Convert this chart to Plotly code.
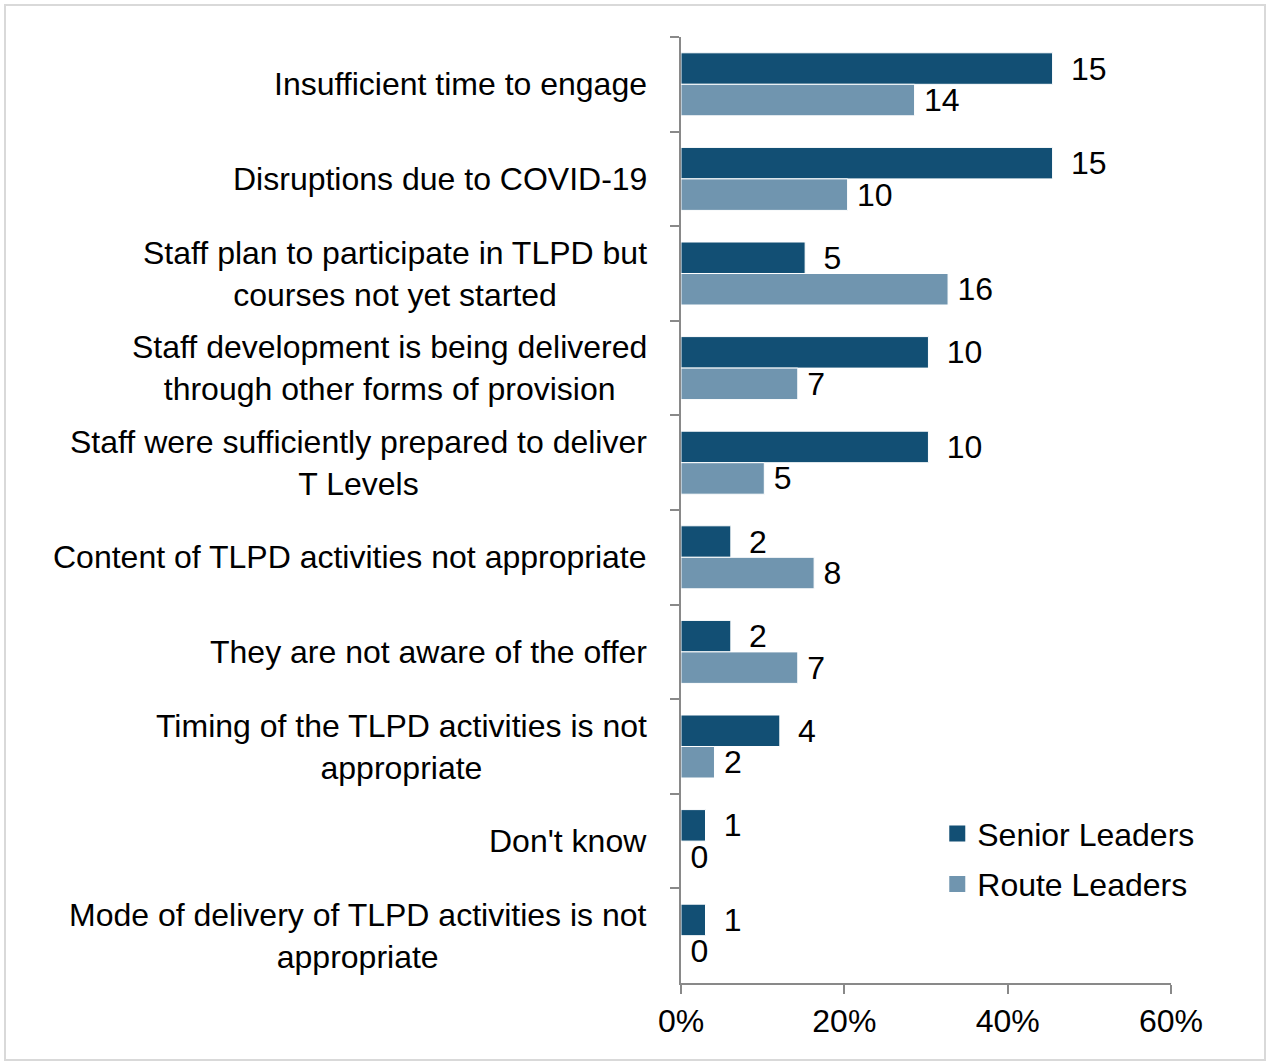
import plotly.graph_objects as go

categories = [
    "Insufficient time to engage",
    "Disruptions due to COVID-19",
    "Staff plan to participate in TLPD but<br>courses not yet started",
    "Staff development is being delivered<br>through other forms of provision",
    "Staff were sufficiently prepared to deliver<br>T Levels",
    "Content of TLPD activities not appropriate",
    "They are not aware of the offer",
    "Timing of the TLPD activities is not<br>appropriate",
    "Don't know",
    "Mode of delivery of TLPD activities is not<br>appropriate",
]
senior_pct = [45.5, 45.5, 15.2, 30.3, 30.3, 6.1, 6.1, 12.1, 3.0, 3.0]
route_pct = [28.6, 20.4, 32.7, 14.3, 10.2, 16.3, 14.3, 4.1, 0, 0]
senior_n = [15, 15, 5, 10, 10, 2, 2, 4, 1, 1]
route_n = [14, 10, 16, 7, 5, 8, 7, 2, 0, 0]
x_ticks = [0, 20, 40, 60]
series_names = ["Senior Leaders", "Route Leaders"]
series_colors = ["#124f74", "#7095af"]

FONT = "Liberation Sans, Arial, sans-serif"
FS = 32
NB = "\u00a0"
TH = "\u2009"

fig = go.Figure()
fig.add_trace(go.Bar(
    name=series_names[0], y=categories, x=senior_pct, orientation="h",
    marker=dict(color=series_colors[0], line=dict(color="#ffffff", width=1)),
    text=[NB + TH + str(v) for v in senior_n], textposition="outside",
    constraintext="none", cliponaxis=False, showlegend=False,
    textfont=dict(family=FONT, size=FS, color="#000000"),
))
fig.add_trace(go.Bar(
    name=series_names[1], y=categories, x=route_pct, orientation="h",
    marker=dict(color=series_colors[1], line=dict(color="#ffffff", width=1)),
    text=[TH + str(v) for v in route_n], textposition="outside",
    constraintext="none", cliponaxis=False, showlegend=False,
    textfont=dict(family=FONT, size=FS, color="#000000"),
))
# legend entries (square swatches)
for i, (nm, col) in enumerate(zip(series_names, series_colors)):
    fig.add_trace(go.Scatter(
        x=[None], y=[None], mode="markers", name=nm, legendgroup=f"g{i}",
        marker=dict(symbol="square", size=16, color=col), showlegend=True,
    ))

for c in categories:
    fig.add_annotation(
        x=0, xref="paper", y=c, yref="y", text=c, showarrow=False,
        xanchor="right", yanchor="middle", align="center", xshift=-32,
        font=dict(family=FONT, size=FS, color="#000000"),
    )

fig.add_shape(type="rect", xref="paper", yref="paper",
              x0=(5 - 681) / 490, x1=(1265 - 681) / 490,
              y0=(983 - 1060) / 946, y1=(983 - 5) / 946,
              line=dict(color="#d9d9d9", width=2), fillcolor="rgba(0,0,0,0)", layer="below")

fig.update_layout(
    width=1267, height=1064,
    margin=dict(l=681, r=96, t=37, b=81),
    paper_bgcolor="#ffffff", plot_bgcolor="#ffffff",
    barmode="group", bargap=0.334, bargroupgap=0,
    font=dict(family=FONT, size=FS, color="#000000"),
    showlegend=True,
    legend=dict(x=0.523, y=0.187, xanchor="left", yanchor="top",
                font=dict(family=FONT, size=FS, color="#000000"),
                bgcolor="rgba(0,0,0,0)", traceorder="grouped", tracegroupgap=6),
    xaxis=dict(range=[0, 60], tickvals=x_ticks, ticktext=[f"{v}%" for v in x_ticks],
               showgrid=False, zeroline=False, showline=True, linecolor="#898989",
               linewidth=2, ticks="outside", ticklen=9, tickcolor="#898989", tickwidth=2,
               tickfont=dict(family=FONT, size=FS, color="#000000")),
    yaxis=dict(autorange="reversed", showgrid=False, zeroline=False, showline=True,
               linecolor="#898989", linewidth=2, ticks="outside", ticklen=9,
               tickcolor="#898989", tickwidth=2, tickson="boundaries",
               showticklabels=False),
)

fig.write_html("out.html", config={"displayModeBar": False},
               post_script="document.body.style.margin='0';")
